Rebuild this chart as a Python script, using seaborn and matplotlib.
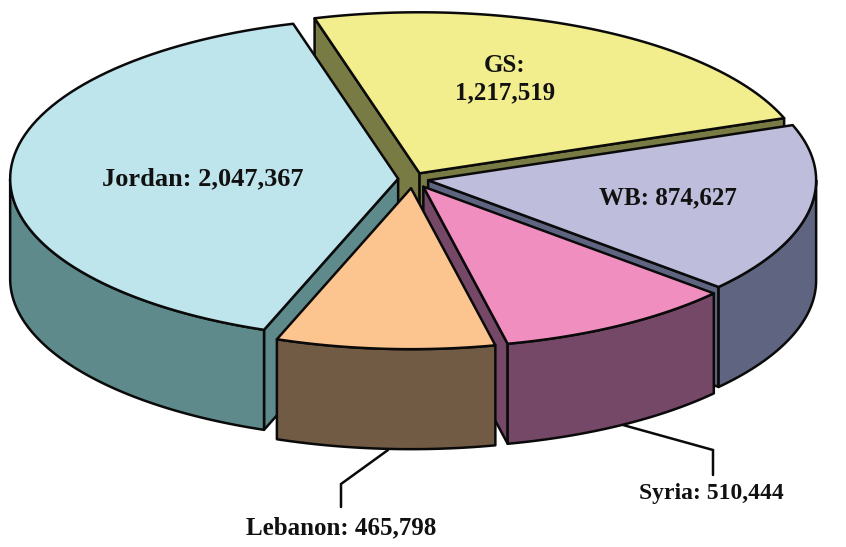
import numpy as np
import matplotlib
matplotlib.use("Agg")
import matplotlib.pyplot as plt
from matplotlib.patches import Polygon
import seaborn as sns

# --- data -------------------------------------------------------------
regions = ["GS", "WB", "Syria", "Lebanon", "Jordan"]
refugees = [1217519, 874627, 510444, 465798, 2047367]
top_hex = ["#F2EE8E", "#BEBEDC", "#F08FBF", "#FCC48E", "#BEE4EC"]
wall_hex = ["#787C44", "#5F6480", "#764868", "#725B45", "#5F8A8C"]
explode = [0.040, 0.041, 0.055, 0.057, 0.037]
draw_order = ["GS", "Jordan", "WB", "Syria", "Lebanon"]

# --- geometry ---------------------------------------------------------
START_ANGLE = 105.7
CX, CY = 412.5, 179.0
RX, RY = 388.0, 161.0
DEPTH = 100.0
EDGE = "#0A0A0A"
LW = 1.8

sns.set_theme(style="white")
plt.rcParams["font.family"] = ["Liberation Serif", "DejaVu Serif"]
top_pal = sns.color_palette(top_hex)
wall_pal = sns.color_palette(wall_hex)

fig = plt.figure(figsize=(8.46, 5.47), dpi=100, facecolor="white")
ax = fig.add_axes([0, 0, 1, 1])
ax.set_xlim(0, 846)
ax.set_ylim(547, 0)
ax.axis("off")


def arc(apex, a, b, n=80):
    t = np.radians(np.linspace(a, b, n))
    return np.column_stack([apex[0] + RX * np.cos(t), apex[1] - RY * np.sin(t)])


def shade(points, color, z):
    ax.add_patch(Polygon(points, closed=True, facecolor=color, edgecolor=EDGE,
                         linewidth=LW, joinstyle="round", zorder=z))


total = sum(refugees)
spans = 360.0 * np.array(refugees) / total
ends = START_ANGLE - np.cumsum(spans)
starts = ends + spans
drop = np.array([0.0, DEPTH])

for layer, name in enumerate(draw_order):
    i = regions.index(name)
    a, b = starts[i], ends[i]
    mid = np.radians((a + b) / 2)
    apex = np.array([CX + explode[i] * RX * np.cos(mid),
                     CY - explode[i] * RY * np.sin(mid)])
    z = 2 + layer
    # cut faces that look towards the viewer
    for cut, normal in ((a, a + 90), (b, b - 90)):
        if np.sin(np.radians(normal)) < 0:
            rim = arc(apex, cut, cut, 1)[0]
            shade([apex, rim, rim + drop, apex + drop], wall_pal[i], z)
    # outer curved wall, only where it faces the viewer
    hi_f, lo_f = min(a, 0.0), max(b, -180.0)
    if hi_f > lo_f:
        curve = arc(apex, hi_f, lo_f)
        shade(np.vstack([curve, (curve + drop)[::-1]]), wall_pal[i], z)
    # top face
    shade(np.vstack([apex, arc(apex, a, b)]), top_pal[i], z)

# --- labels -----------------------------------------------------------
font = dict(fontweight="bold", color="#111111",
            ha="center", va="center", zorder=20)
ax.text(203, 179, f"Jordan: {refugees[4]:,}", fontsize=19, **font)
ax.text(505, 65, "GS:", fontsize=18, **font)
ax.text(505, 93, f"{refugees[0]:,}", fontsize=18, **font)
ax.text(668, 198, f"WB: {refugees[1]:,}", fontsize=18, **font)
ax.text(711, 493, f"Syria: {refugees[2]:,}", fontsize=17, **font)
ax.text(341, 528, f"Lebanon: {refugees[3]:,}", fontsize=18, **font)

ax.plot([388, 341, 341], [450, 484, 507], color=EDGE, lw=LW, zorder=1,
        solid_joinstyle="miter")
ax.plot([623, 713, 713], [425, 450, 475], color=EDGE, lw=LW, zorder=1,
        solid_joinstyle="miter")

fig.savefig("out.png", dpi=100, facecolor="white")
